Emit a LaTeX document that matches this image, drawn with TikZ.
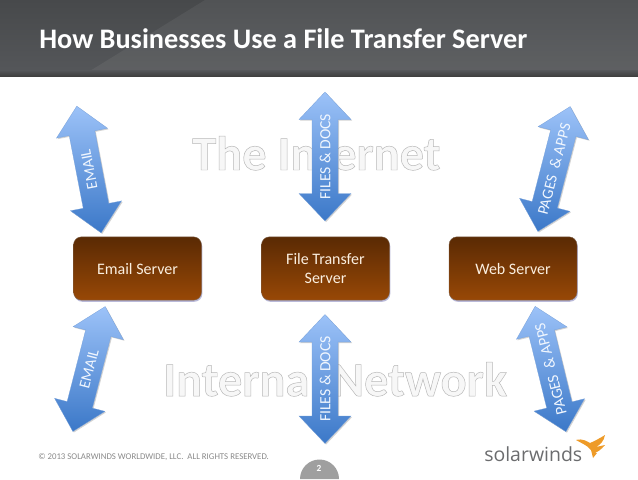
\documentclass[tikz,border=0pt]{standalone}
\usepackage{fontspec}
\setmainfont{Carlito}
\newfontfamily\embfont[FakeBold=1.0]{Carlito Bold}
\newfontfamily\logofont{Open Sans}
\usetikzlibrary{shadows,calc}
\definecolor{bandtop}{HTML}{47494B}
\definecolor{bandbot}{HTML}{55575A}
\definecolor{arrowtop}{HTML}{9CC2F8}
\definecolor{arrowbot}{HTML}{3B78C8}
\definecolor{boxtop}{HTML}{5A2A04}
\definecolor{boxbot}{HTML}{984806}
\definecolor{footgrey}{HTML}{8A8A8A}
\definecolor{logogrey}{HTML}{6B6C6E}
\definecolor{flame}{HTML}{EE9B28}
\definecolor{boxtext}{HTML}{FBEFE0}
\tikzset{
  x=0.75pt,y=-0.75pt,
  serverbox/.style={rounded corners=6, top color=boxtop, bottom color=boxbot, draw=boxbot!50!black!70,
     line width=0.3pt, text=boxtext, font=\fontsize{12}{14.5}\selectfont, align=center, minimum width=96pt, minimum height=47.5pt,
     drop shadow={shadow xshift=0.6pt,shadow yshift=-1.2pt,fill=gray!70!blue!60,opacity=.7}},
  dblarrow/.style={top color=arrowtop,bottom color=arrowbot,draw=arrowbot!70,line width=0.2pt,
     drop shadow={shadow xshift=0.8pt,shadow yshift=-0.8pt,fill=gray,opacity=.35}},
  arrowtext/.style={text=white!85!arrowtop,font=\fontsize{11.7}{14}\selectfont,inner sep=0pt},
  watermark/.style={font=\embfont\fontsize{36.3}{40}\selectfont,inner sep=0pt,anchor=base west},
}
% centre x, centre y, tilt (degrees clockwise on screen), label, name
\newcommand{\dblarr}[5]{%
  \begin{scope}[shift={(#1,#2)},rotate=-#3]
    \path[dblarrow] (0,-64.5) -- (26,-37) -- (13,-37) -- (13,37) -- (26,37) -- (0,64.5)
       -- (-26,37) -- (-13,37) -- (-13,-37) -- (-26,-37) -- cycle;
  \end{scope}
  \pgfmathsetmacro{\txtrot}{90-#3}
  \node[arrowtext,rotate=\txtrot] (#5) at (#1,#2) {#4};}
\begin{document}
\begin{tikzpicture}
\useasboundingbox (0,0) rectangle (638,479);
\fill[white] (0,0) rectangle (638,479);
% title band
\fill[top color=bandtop,bottom color=bandbot] (0,0) rectangle (638,74);
\fill[white,opacity=.06] (85,74) -- (205,0) -- (638,0) -- (638,74) -- cycle;
\fill[top color=bandbot,bottom color=black!75] (0,70) rectangle (638,76);
\node[anchor=base west,text=white,inner sep=0pt,font=\bfseries\fontsize{21.2}{25}\selectfont] (title) at (39,48) {How Businesses Use a File Transfer Server};
% watermark words
\node[watermark] (inet) at (192,170) {\special{pdf:bc [0.97] [0.72]}The Internet\special{pdf:ec}};
\node[watermark] (inner) at (163,396) {\special{pdf:bc [0.97] [0.72]}Internal Network\special{pdf:ec}};
% servers
\node[serverbox] (mail) at (137.5,268.5) {Email Server};
\node[serverbox] (ft) at (325.5,268.5) {File Transfer\\Server};
\node[serverbox] (web) at (513,268.5) {Web Server};
% double arrows
\dblarr{89}{169.5}{-10.9}{EMAIL}{a1}
\dblarr{325}{156.5}{0}{FILES \& DOCS}{a2}
\dblarr{554}{169}{14.5}{PAGES\ \ \& APPS}{a3}
\dblarr{89}{369}{14.5}{EMAIL}{a4}
\dblarr{325}{379}{0}{FILES \& DOCS}{a5}
\dblarr{550.5}{369}{-13.8}{PAGES\ \ \& APPS}{a6}
% footer
\node[anchor=base west,inner sep=0pt,text=footgrey,font=\fontsize{6.6}{8}\selectfont] (foot) at (38,459) {© 2013 SOLARWINDS WORLDWIDE, LLC.\ \ ALL RIGHTS RESERVED.};
\fill[gray!75] (300,479) arc[start angle=180,end angle=360,radius=19.5] -- cycle;
\node[text=white,inner sep=0pt,font=\bfseries\fontsize{7}{8}\selectfont] (page) at (319,468) {2};
% logo
\node[anchor=base west,inner sep=0pt,text=logogrey,font=\logofont\fontsize{14.6}{18}\selectfont] (logo) at (484,461) {solarwinds};
\fill[flame] (576,440) .. controls (583,438) and (588,442) .. (590,443) .. controls (595,441) and (600,438) .. (605,435) .. controls (604,441) and (600,445) .. (596,447) -- (605,445) .. controls (601,450) and (597,452) .. (595,453) -- (597,453) -- (593,458) -- (591,450) .. controls (587,445) and (581,443) .. (576,440) -- cycle;
\end{tikzpicture}
\end{document}
